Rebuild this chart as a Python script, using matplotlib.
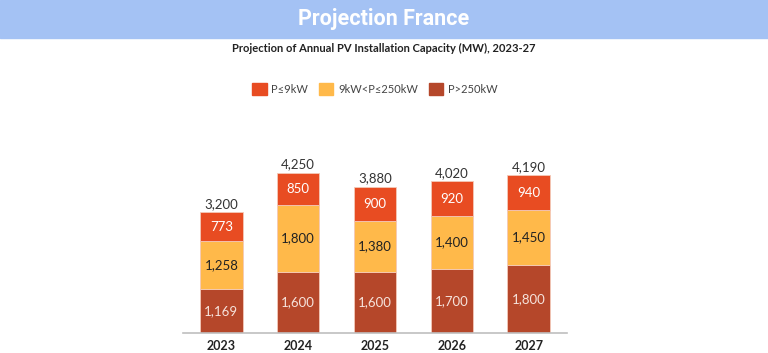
import matplotlib.pyplot as plt
import matplotlib.patches as mpatches
import numpy as np

# data
years = ["2023", "2024", "2025", "2026", "2027"]
small = [773, 850, 900, 920, 940]          # P<=9kW
mid = [1258, 1800, 1380, 1400, 1450]       # 9kW<P<=250kW
large = [1169, 1600, 1600, 1700, 1800]     # P>250kW
totals = [3200, 4250, 3880, 4020, 4190]

series_names = ["P\u22649kW", "9kW<P\u2264250kW", "P>250kW"]
c_small, c_mid, c_large = "#E84C22", "#FFB94A", "#B5472A"

plt.rcParams['font.family'] = ['Lato', 'DejaVu Sans']

fig = plt.figure(figsize=(7.68, 3.53), dpi=100)

# header band
fig.patches.append(mpatches.Rectangle((0, 1 - 38 / 353), 1, 38 / 353,
                                      transform=fig.transFigure, color="#A4C2F4", zorder=0))
fig.text(0.5, 1 - 19 / 353, "Projection France", ha="center", va="center",
         color="white", fontsize=15.5, fontweight="bold", family=['Roboto', 'DejaVu Sans'])
fig.text(0.5, 1 - 48 / 353, "Projection of Annual PV Installation Capacity (MW), 2023-27",
         ha="center", va="center", fontsize=8, fontweight="bold", color="#222222")

ax = fig.add_axes([183 / 768, 20.3 / 353, 384 / 768, 180.7 / 353])
x = np.arange(len(years))
w = 0.55
ax.bar(x, large, w, color=c_large, edgecolor="#F4C9B8", linewidth=0.6)
ax.bar(x, mid, w, bottom=large, color=c_mid, edgecolor="#F4C9B8", linewidth=0.6)
bottom2 = np.array(large) + np.array(mid)
ax.bar(x, small, w, bottom=bottom2, color=c_small, edgecolor="#F4C9B8", linewidth=0.6)

for i in range(len(years)):
    ax.text(x[i], large[i] / 2, f"{large[i]:,}", ha="center", va="center",
            color="#F6E3DC", fontsize=9.5)
    ax.text(x[i], large[i] + mid[i] / 2, f"{mid[i]:,}", ha="center", va="center",
            color="#222222", fontsize=9.5)
    ax.text(x[i], bottom2[i] + small[i] / 2, f"{small[i]:,}", ha="center", va="center",
            color="white", fontsize=9.5)
    ax.text(x[i], totals[i] + 60, f"{totals[i]:,}", ha="center", va="bottom",
            color="#333333", fontsize=9.5)

ax.set_xlim(-0.5, 4.5)
ax.set_ylim(0, 4800)
ax.set_xticks(x)
ax.set_xticklabels(years, fontweight="bold", fontsize=9, color="#222222")
ax.tick_params(axis="x", length=0, pad=5)
ax.set_yticks([])
for s in ["top", "left", "right"]:
    ax.spines[s].set_visible(False)
ax.spines["bottom"].set_color("#BFBFBF")
ax.spines["bottom"].set_linewidth(1.2)

handles = [mpatches.Patch(color=c) for c in (c_small, c_mid, c_large)]
fig.legend(handles, series_names, loc="center", bbox_to_anchor=(0.488, 1 - 89 / 353),
           ncol=3, frameon=False, fontsize=8, handlelength=1.3, handleheight=1.3,
           handletextpad=0.4, columnspacing=1.0, labelcolor="#444444")

fig.savefig("out.png", dpi=100)
